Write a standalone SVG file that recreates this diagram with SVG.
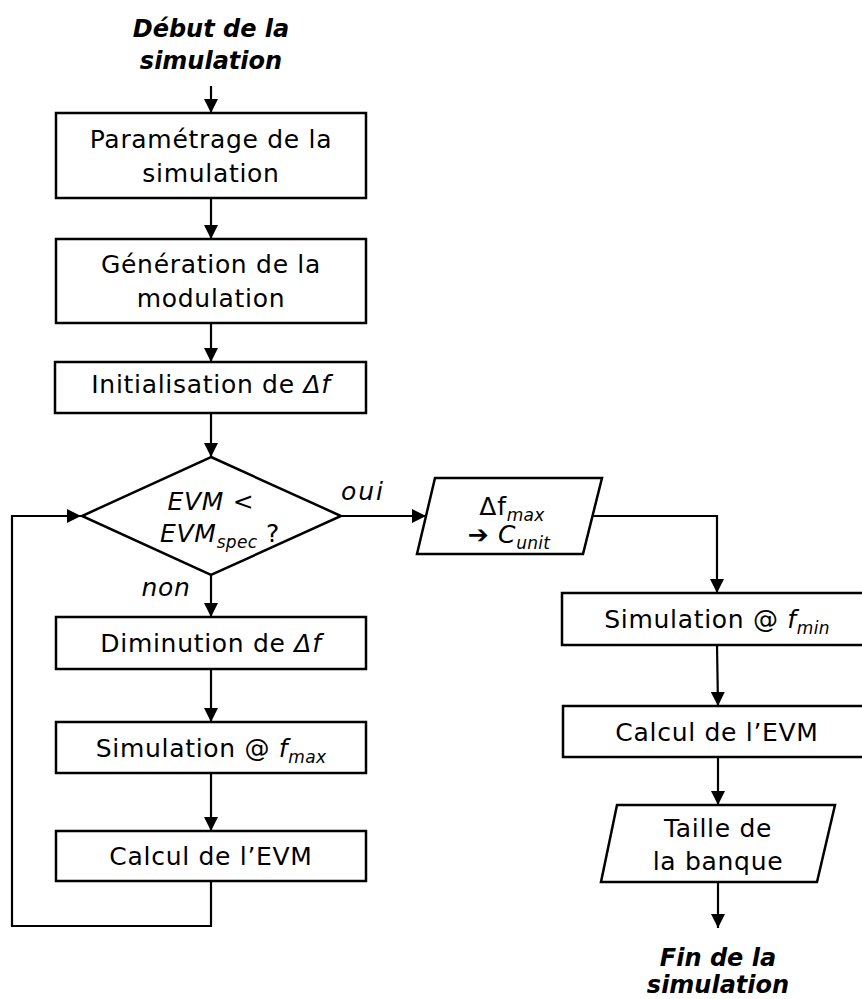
<svg xmlns="http://www.w3.org/2000/svg" width="862" height="999" viewBox="0 0 862 999">
<style>
.box{fill:#fff;stroke:#000;stroke-width:2.5}
.t{font-family:"DejaVu Sans",sans-serif;font-size:25px;letter-spacing:0.7px;fill:#000;text-anchor:middle}
.i{font-style:italic}
.sub{font-size:17px;font-style:italic;letter-spacing:0.3px}
.title{font-family:"DejaVu Sans",sans-serif;font-size:24px;font-weight:bold;font-style:italic;fill:#000;text-anchor:middle}
.c{fill:none;stroke:#000;stroke-width:2.2}
</style>
<defs>
<marker id="ah" markerUnits="userSpaceOnUse" markerWidth="16" markerHeight="16" viewBox="0 0 16 16" refX="15" refY="8" orient="auto">
<path d="M1,1 L15,8 L1,15 Z" fill="#000"/>
</marker>
</defs>
<rect width="862" height="999" fill="#fff"/>
<g id="connectors">
<line class="c" x1="211" y1="86" x2="211" y2="113" marker-end="url(#ah)"/>
<line class="c" x1="211" y1="198" x2="211" y2="239" marker-end="url(#ah)"/>
<line class="c" x1="211" y1="323" x2="211" y2="362" marker-end="url(#ah)"/>
<line class="c" x1="211" y1="413" x2="211" y2="457" marker-end="url(#ah)"/>
<line class="c" x1="211" y1="575" x2="211" y2="617" marker-end="url(#ah)"/>
<line class="c" x1="211" y1="669" x2="211" y2="722" marker-end="url(#ah)"/>
<line class="c" x1="211" y1="773" x2="211" y2="831" marker-end="url(#ah)"/>
<polyline class="c" points="211,881 211,926 12,926 12,516 81,516" marker-end="url(#ah)"/>
<line class="c" x1="341" y1="516" x2="426" y2="516" marker-end="url(#ah)"/>
<polyline class="c" points="593,516 717,516 717,593" marker-end="url(#ah)"/>
<line class="c" x1="717" y1="645" x2="718" y2="706" marker-end="url(#ah)"/>
<line class="c" x1="718" y1="757" x2="718" y2="805" marker-end="url(#ah)"/>
<line class="c" x1="718" y1="882" x2="718" y2="928" marker-end="url(#ah)"/>
<text class="t i" x="363" y="500" style="letter-spacing:2px">oui</text>
<text class="t i" x="166" y="596">non</text>
</g>
<g id="start">
<text class="title" x="211" y="37">Début de la</text>
<text class="title" x="211" y="69">simulation</text>
</g>
<g id="param">
<rect class="box" x="56" y="113" width="310" height="85"/>
<text class="t" x="211" y="148">Paramétrage de la</text>
<text class="t" x="211" y="182">simulation</text>
</g>
<g id="generation">
<rect class="box" x="56" y="239" width="310" height="84"/>
<text class="t" x="211" y="273">Génération de la</text>
<text class="t" x="211" y="307">modulation</text>
</g>
<g id="init">
<rect class="box" x="55" y="362" width="311" height="51"/>
<text class="t" x="211" y="393">Initialisation de <tspan class="i">Δf</tspan></text>
</g>
<g id="decision">
<polygon class="box" points="211,457 341,516 211,575 82,516"/>
<text class="t i" x="211" y="510">EVM &lt;</text>
<text class="t i" x="220" y="542">EVM<tspan class="sub" dy="6">spec</tspan><tspan dy="-6" font-style="normal"> ?</tspan></text>
</g>
<g id="diminution">
<rect class="box" x="56" y="617" width="310" height="52"/>
<text class="t" x="211" y="652">Diminution de <tspan class="i">Δf</tspan></text>
</g>
<g id="simfmax">
<rect class="box" x="56" y="722" width="310" height="51"/>
<text class="t" x="211" y="757">Simulation @ <tspan class="i">f</tspan><tspan class="sub" dy="6">max</tspan></text>
</g>
<g id="calcul1">
<rect class="box" x="56" y="831" width="310" height="50"/>
<text class="t" x="211" y="865">Calcul de l’EVM</text>
</g>
<g id="deltafmax">
<polygon class="box" points="435,478 602,478 583,554 417,554"/>
<text class="t" x="512" y="515">Δf<tspan class="sub" dy="6">max</tspan></text>
<text class="t" x="509" y="543"><tspan font-weight="bold">➔</tspan> <tspan class="i">C</tspan><tspan class="sub" dy="6">unit</tspan></text>
</g>
<g id="simfmin">
<rect class="box" x="562" y="593" width="310" height="52"/>
<text class="t" x="717" y="628">Simulation @ <tspan class="i">f</tspan><tspan class="sub" dy="6">min</tspan></text>
</g>
<g id="calcul2">
<rect class="box" x="563" y="706" width="310" height="51"/>
<text class="t" x="717" y="741">Calcul de l’EVM</text>
</g>
<g id="taille">
<polygon class="box" points="617,805 835,805 817,882 601,882"/>
<text class="t" x="718" y="837">Taille de</text>
<text class="t" x="718" y="870">la banque</text>
</g>
<g id="end">
<text class="title" x="718" y="966">Fin de la</text>
<text class="title" x="718" y="993">simulation</text>
</g>
</svg>
